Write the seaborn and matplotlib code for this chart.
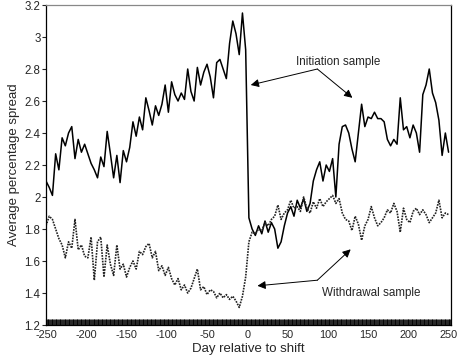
import numpy as np
import pandas as pd
import matplotlib
matplotlib.use("Agg")
import matplotlib.pyplot as plt
from matplotlib.ticker import MultipleLocator
import seaborn as sns

days = list(range(-250, 251, 4))

initiation = [
    2.10, 2.06, 2.01, 2.27, 2.17, 2.37, 2.32, 2.40, 2.44, 2.24,
    2.36, 2.28, 2.33, 2.27, 2.21, 2.17, 2.12, 2.25, 2.19, 2.41,
    2.27, 2.12, 2.26, 2.09, 2.29, 2.22, 2.31,
    2.47, 2.38, 2.50, 2.42, 2.62, 2.54, 2.45, 2.57, 2.51, 2.58,
    2.70, 2.53, 2.72, 2.64, 2.60, 2.65, 2.61, 2.80, 2.66, 2.60,
    2.81, 2.70, 2.78, 2.83, 2.75,
    2.62, 2.84, 2.86, 2.80, 2.74, 2.96, 3.10, 3.02, 2.89, 3.15, 2.92,
    1.87, 1.80, 1.76, 1.82, 1.77, 1.85, 1.78, 1.84, 1.80, 1.68,
    1.72, 1.82, 1.90, 1.94, 1.88, 1.98,
    1.93, 1.99, 1.91, 1.96, 2.10, 2.17, 2.22, 2.10, 2.20, 2.16,
    2.24, 2.00, 2.33, 2.44, 2.45, 2.40, 2.30, 2.22, 2.40, 2.58,
    2.44, 2.50, 2.49, 2.53, 2.49,
    2.49, 2.47, 2.36, 2.32, 2.36, 2.33, 2.62, 2.42, 2.44, 2.37,
    2.45, 2.40, 2.28, 2.64, 2.70, 2.80, 2.65, 2.59, 2.48, 2.26,
    2.40, 2.28,
]

withdrawal = [
    1.82, 1.88, 1.86, 1.80, 1.74, 1.70, 1.62, 1.72, 1.68, 1.86,
    1.67, 1.70, 1.63, 1.62, 1.75, 1.48, 1.72, 1.75, 1.50, 1.70,
    1.58, 1.51, 1.70, 1.55, 1.58, 1.50, 1.56,
    1.60, 1.55, 1.66, 1.64, 1.69, 1.71, 1.62, 1.66, 1.54, 1.57,
    1.51, 1.56, 1.49, 1.45, 1.49, 1.42, 1.45, 1.40, 1.43, 1.49,
    1.55, 1.42, 1.44, 1.39, 1.42,
    1.41, 1.37, 1.40, 1.37, 1.39, 1.36, 1.38, 1.35, 1.31, 1.38, 1.50,
    1.72, 1.78, 1.77, 1.80, 1.79, 1.84, 1.82, 1.86, 1.88, 1.95,
    1.86, 1.90, 1.92, 1.98, 1.93, 1.94,
    1.91, 2.00, 1.93, 1.90, 1.97, 1.93, 1.99, 1.94, 1.97, 1.99,
    2.01, 1.96, 1.99, 1.90, 1.86, 1.85, 1.79, 1.88, 1.83, 1.73,
    1.82, 1.86, 1.94, 1.87, 1.82,
    1.84, 1.87, 1.92, 1.90, 1.96, 1.91, 1.78, 1.93, 1.86, 1.84,
    1.91, 1.93, 1.89, 1.92, 1.89, 1.84, 1.87, 1.90, 1.98, 1.87,
    1.90, 1.89,
]

x_ticks = [-250, -200, -150, -100, -50, 0, 50, 100, 150, 200, 250]
y_ticks = [1.2, 1.4, 1.6, 1.8, 2.0, 2.2, 2.4, 2.6, 2.8, 3.0, 3.2]
y_tick_labels = ["1.2", "1.4", "1.6", "1.8", "2", "2.2", "2.4", "2.6", "2.8", "3", "3.2"]

sns.set_theme(style="ticks")
plt.rcParams["font.family"] = ["Liberation Sans", "DejaVu Sans"]
plt.rcParams["axes.unicode_minus"] = False

df = pd.DataFrame({"day": days, "init": initiation, "withd": withdrawal})

fig = plt.figure(figsize=(4.6, 3.61), dpi=100)
ax = fig.add_axes([0.1, 0.0997, 0.8804, 0.8864])

sns.lineplot(data=df, x="day", y="init", color="black", lw=1.1, ax=ax)
sns.lineplot(data=df, x="day", y="withd", color="#222222", lw=1.2,
             linestyle=(0, (1, 0.7)), ax=ax)

ax.set_xlim(-250, 253)
ax.set_ylim(1.2, 3.2)
ax.set_xticks(x_ticks)
ax.set_xticklabels([str(v) for v in x_ticks])
ax.set_yticks(y_ticks)
ax.set_yticklabels(y_tick_labels)
ax.xaxis.set_minor_locator(MultipleLocator(1))
ax.tick_params(axis="x", which="minor", direction="in", length=4, width=0.6, color="black")
ax.tick_params(axis="x", which="major", direction="in", length=4, width=0.8, pad=3.5, labelsize=7.8)
ax.tick_params(axis="y", which="major", direction="out", length=3, width=0.8, pad=1, labelsize=8.3)

for s in ["left", "right", "bottom"]:
    ax.spines[s].set_visible(True)
    ax.spines[s].set_color("black")
    ax.spines[s].set_linewidth(0.9)
ax.spines["top"].set_visible(True)
ax.spines["top"].set_color("#888888")
ax.spines["top"].set_linewidth(0.9)

ax.set_xlabel("Day relative to shift", fontsize=9.5, labelpad=2)
ax.set_ylabel("Average percentage spread", fontsize=9.5, labelpad=3)

arrow_kw = dict(arrowstyle="-|>", color="black", lw=0.7, mutation_scale=12,
                shrinkA=0, shrinkB=0)
ax.annotate("", xy=(4.3, 2.70), xytext=(87, 2.80), arrowprops=arrow_kw)
ax.annotate("", xy=(130.5, 2.62), xytext=(87, 2.80), arrowprops=arrow_kw)
ax.text(113.5, 2.845, "Initiation sample", fontsize=8.4, ha="center", va="center")

ax.annotate("", xy=(12.6, 1.445), xytext=(87, 1.48), arrowprops=arrow_kw)
ax.annotate("", xy=(128.4, 1.673), xytext=(87, 1.48), arrowprops=arrow_kw)
ax.text(154.5, 1.398, "Withdrawal sample", fontsize=8.4, ha="center", va="center")

fig.savefig("out.png", dpi=100)
